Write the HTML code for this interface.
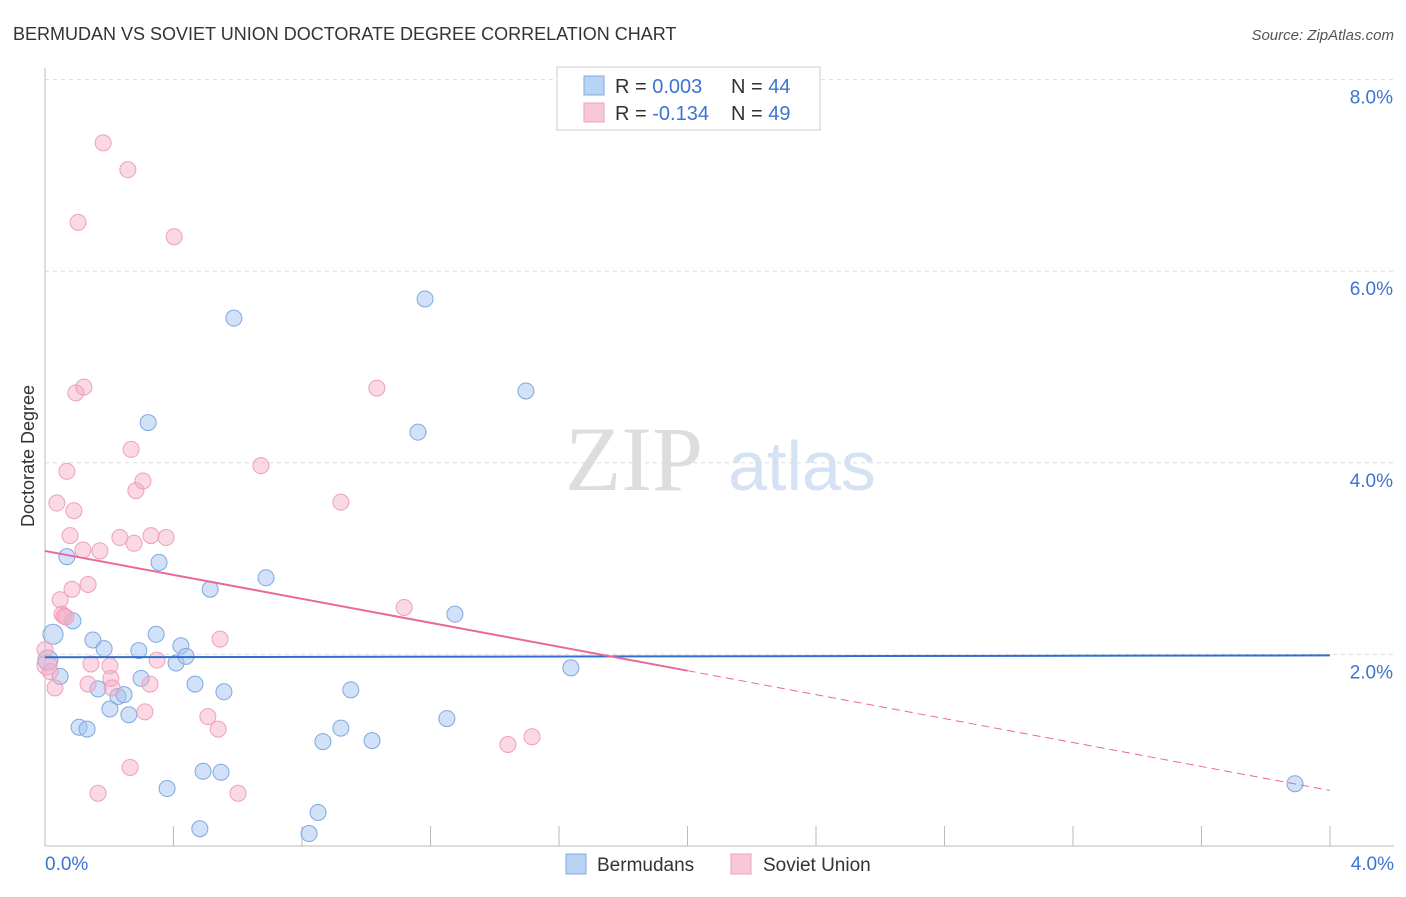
<!DOCTYPE html>
<html><head><meta charset="utf-8"><style>
body{margin:0;background:#fff;font-family:"Liberation Sans",sans-serif;}
</style></head><body>
<svg width="1406" height="892" xmlns="http://www.w3.org/2000/svg" font-family="Liberation Sans, sans-serif">
<text x="13" y="40" font-size="18" fill="#333">BERMUDAN VS SOVIET UNION DOCTORATE DEGREE CORRELATION CHART</text>
<text x="1394" y="40" font-size="15" fill="#555" text-anchor="end" font-style="italic">Source: ZipAtlas.com</text>
<text x="634" y="490" font-size="92" fill="#ddd" text-anchor="middle" font-family="Liberation Serif, serif">ZIP</text>
<text x="802" y="490" font-size="70" fill="#d4e2f3" text-anchor="middle">atlas</text>
<text x="34" y="456" font-size="18" fill="#333" text-anchor="middle" transform="rotate(-90 34 456)">Doctorate Degree</text>
<g id="grid"></g><g id="pts"></g><g id="trends"></g>
<g>
<rect x="557" y="67" width="263" height="63" fill="#fff" stroke="#ccc"/>
<rect x="584" y="76" width="20" height="19" fill="#b9d3f5" stroke="#7fa8e0"/>
<rect x="584" y="103" width="20" height="19" fill="#f9c8d8" stroke="#eea0bb"/>
<text x="615" y="93" font-size="20" fill="#333">R = <tspan fill="#3b74d1">0.003</tspan><tspan x="731">N = </tspan><tspan fill="#3b74d1">44</tspan></text>
<text x="615" y="120" font-size="20" fill="#333">R = <tspan fill="#3b74d1">-0.134</tspan><tspan x="731">N = </tspan><tspan fill="#3b74d1">49</tspan></text>
</g>
<g>
<rect x="566" y="854" width="20" height="20" fill="#b9d3f5" stroke="#7fa8e0"/>
<text x="597" y="871" font-size="19" fill="#333">Bermudans</text>
<rect x="731" y="854" width="20" height="20" fill="#f9c8d8" stroke="#eea0bb"/>
<text x="763" y="871" font-size="19" fill="#333">Soviet Union</text>
</g>
</svg>
<script>
const xTicks=[0,0.4,0.8,1.2,1.6,2.0,2.4,2.8,3.2,3.6,4.0];
const yTicks=[2,4,6,8];
const yTickLabels=["2.0%","4.0%","6.0%","8.0%"];
const blueX=[0.025,0.009,0.047,0.068,0.087,0.106,0.131,0.149,0.165,0.184,0.202,0.227,0.246,0.261,0.292,0.299,0.321,0.346,0.355,0.380,0.408,0.423,0.439,0.467,0.482,0.492,0.514,0.548,0.557,0.588,0.688,0.822,0.850,0.865,0.921,0.952,1.018,1.161,1.183,1.251,1.276,1.497,1.637,3.891];
const blueY=[2.21,1.94,1.77,3.02,2.35,1.24,1.22,2.15,1.64,2.06,1.43,1.56,1.58,1.37,2.04,1.75,4.42,2.21,2.96,0.60,1.91,2.09,1.98,1.69,0.18,0.78,2.68,0.77,1.61,5.51,2.80,0.13,0.35,1.09,1.23,1.63,1.10,4.32,5.71,1.33,2.42,4.75,1.86,0.65];
const pinkX=[0.006,0.016,0.031,0.037,0.047,0.053,0.059,0.068,0.078,0.084,0.090,0.096,0.103,0.118,0.121,0.134,0.134,0.143,0.165,0.171,0.181,0.202,0.205,0.209,0.233,0.258,0.265,0.268,0.277,0.283,0.305,0.311,0.327,0.330,0.349,0.377,0.402,0.507,0.539,0.545,0.601,0.672,0.921,1.033,1.118,1.441,1.516,0.000,0.065];
const pinkY=[1.89,1.82,1.65,3.58,2.57,2.42,2.40,3.91,3.24,2.68,3.50,4.73,6.51,3.09,4.79,2.73,1.69,1.90,0.55,3.08,7.34,1.88,1.75,1.65,3.22,7.06,0.82,4.14,3.16,3.71,3.81,1.40,1.69,3.24,1.94,3.22,6.36,1.35,1.22,2.16,0.55,3.97,3.59,4.78,2.49,1.06,1.14,2.05,2.39];
const X=v=>45+v*321.25, Y=v=>846-v*95.8;
const NS='http://www.w3.org/2000/svg';
function mk(t,a,p){const e=document.createElementNS(NS,t);for(const k in a)e.setAttribute(k,a[k]);p.appendChild(e);return e;}
const g=document.getElementById('grid');
yTicks.forEach((v,i)=>{const l=mk('line',{x1:45,x2:1394,y1:Y(v),y2:Y(v),stroke:'#ddd','stroke-dasharray':'4,4'},g);


const t=mk('text',{x:1393,y:Y(v)+24,'font-size':19,fill:'#3b74d1','text-anchor':'end'},g);t.textContent=yTickLabels[i];

});
const ax=mk('line',{x1:45,x2:1394,y1:846,y2:846,stroke:'#bbb'},g);


const ay=mk('line',{x1:45,x2:45,y1:68,y2:846,stroke:'#bbb'},g);


xTicks.forEach(v=>{const l=mk('line',{x1:X(v),x2:X(v),y1:826,y2:846,stroke:'#bbb'},g);

});
[[0,'0.0%','start',45],[4,'4.0%','end',1394]].forEach(d=>{const t=mk('text',{x:d[3],y:870,'font-size':19,fill:'#3b74d1','text-anchor':d[2]},g);t.textContent=d[1];

});
const p=document.getElementById('pts');
blueX.forEach((v,i)=>{const c=mk('circle',{cx:X(v),cy:Y(blueY[i]),r:i<2?10:8,fill:'rgba(164,196,240,0.5)',stroke:'#7fa8e0','stroke-width':1},p);

});
pinkX.forEach((v,i)=>{const c=mk('circle',{cx:X(v),cy:Y(pinkY[i]),r:i<1?10:8,fill:'rgba(244,170,195,0.45)',stroke:'#eea0bb','stroke-width':1},p);

});
const tr=document.getElementById('trends');
const b=mk('line',{x1:X(0),y1:Y(1.97),x2:X(4),y2:Y(1.99),stroke:'#2f6fd0','stroke-width':2},tr);


const pk=mk('line',{x1:X(0),y1:Y(3.08),x2:X(2),y2:Y(1.83),stroke:'#e8699a','stroke-width':2},tr);


const pd=mk('line',{x1:X(2),y1:Y(1.83),x2:X(4),y2:Y(0.58),stroke:'#e8699a','stroke-width':1,'stroke-dasharray':'8,5'},tr);


</script>
</body></html>
